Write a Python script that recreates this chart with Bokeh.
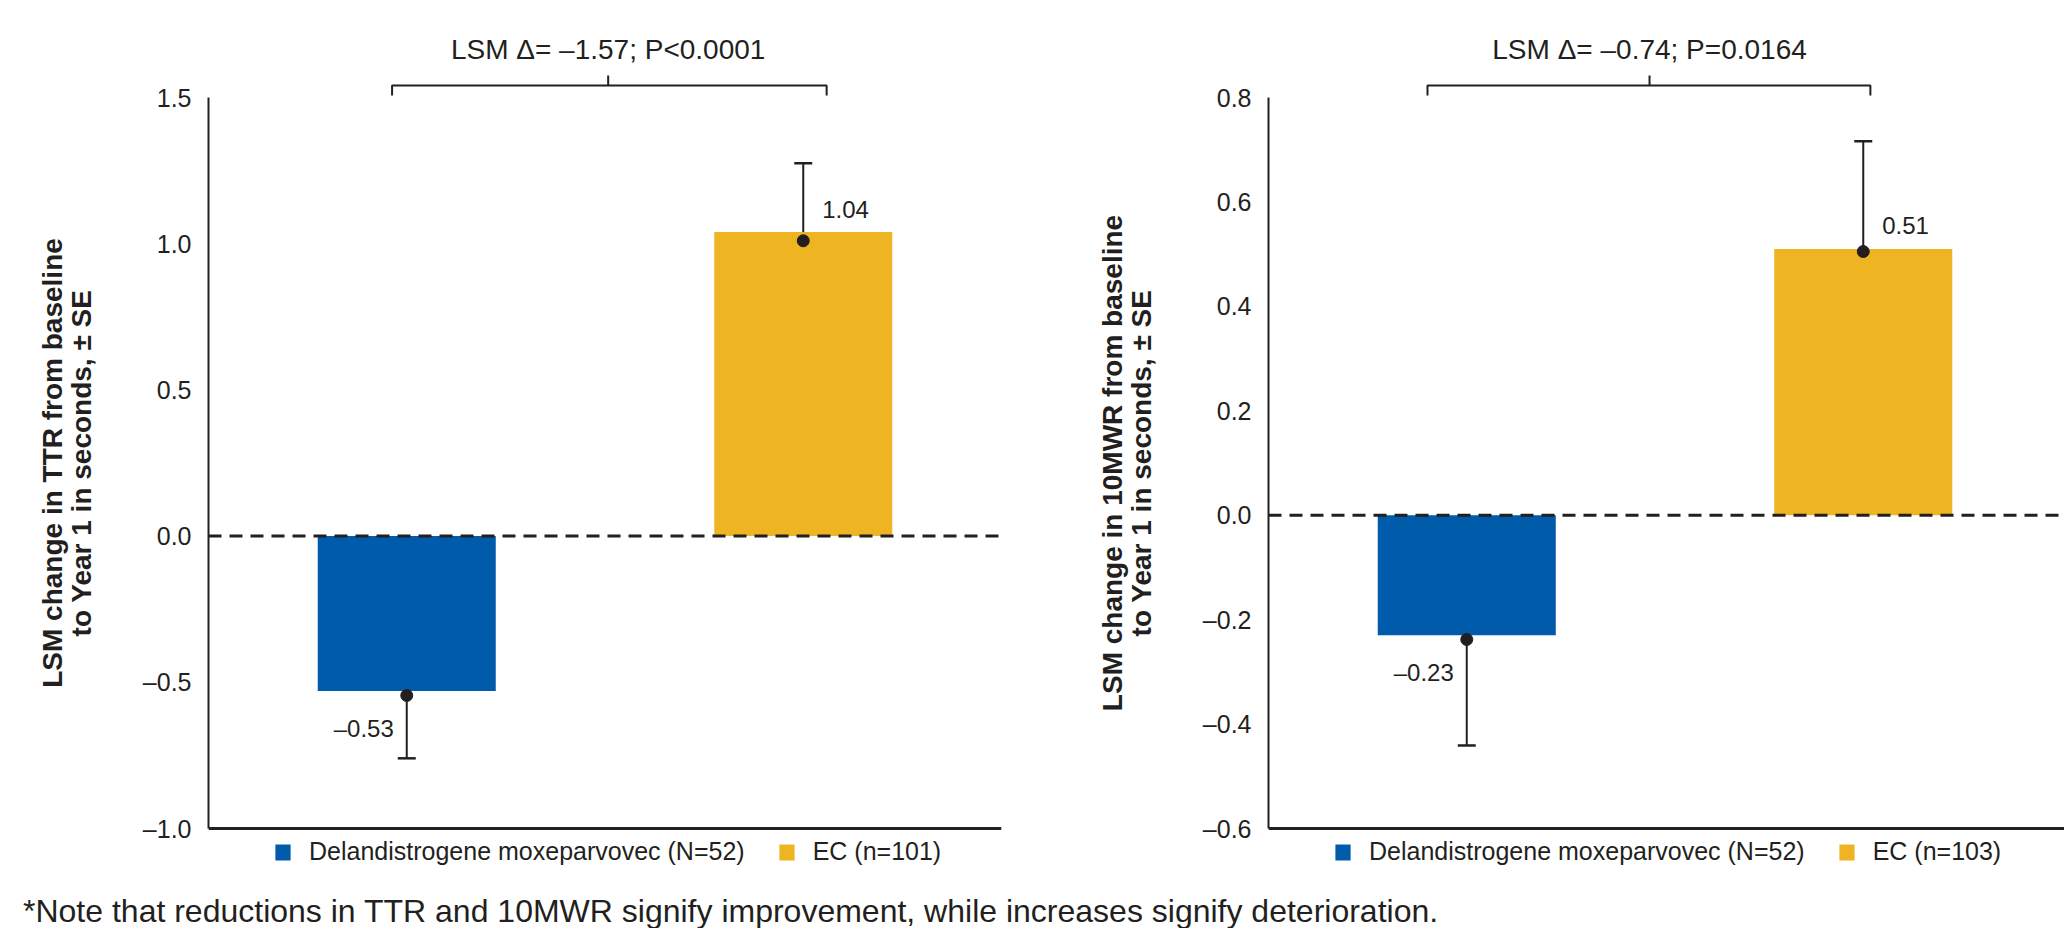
from bokeh.plotting import figure
from bokeh.models import (Range1d, FixedTicker, ColumnDataSource, Whisker, TeeHead,
                          Span, Label, Legend, LegendItem, Div)
from bokeh.layouts import row, column
from bokeh.embed import file_html
from bokeh.resources import INLINE

# ---------------- data ----------------
groups = ["Delandistrogene moxeparvovec", "EC"]
bar_colors = ["#005BAA", "#EEB422"]

ttr_n = ["N=52", "n=101"]
ttr_lsm = [-0.53, 1.04]
ttr_point = [-0.545, 1.01]
ttr_upper = [-0.30, 1.275]
ttr_lower = [-0.76, 0.805]
ttr_ticks = [-1.0, -0.5, 0.0, 0.5, 1.0, 1.5]
ttr_delta = "LSM Δ= –1.57; P<0.0001"
ttr_ytitle = "LSM change in TTR from baseline\nto Year 1 in seconds, ± SE"

mwr_n = ["N=52", "n=103"]
mwr_lsm = [-0.23, 0.51]
mwr_point = [-0.238, 0.505]
mwr_upper = [-0.02, 0.716]
mwr_lower = [-0.441, 0.302]
mwr_ticks = [-0.6, -0.4, -0.2, 0.0, 0.2, 0.4, 0.6, 0.8]
mwr_delta = "LSM Δ= –0.74; P=0.0164"
mwr_ytitle = "LSM change in 10MWR from baseline\nto Year 1 in seconds, ± SE"

footnote = "*Note that reductions in TTR and 10MWR signify improvement, while increases signify deterioration."

# ---------------- style / geometry ----------------
FONT = "Liberation Sans"
INK = "#231F20"
FRAME_TOP = 20       # page px
AXIS_TOP = 97        # page px (top tick)
AXIS_BOTTOM = 828    # page px (bottom tick / baseline)
CANVAS_H = 905
FRAME_BOTTOM = CANVAS_H
PPU_X = 396.5


def fmt(v, nd):
    return f"{v:.{nd}f}".replace("-", "–")


def build(lsm, point, upper, lower, ns, ticks, delta, ytitle,
          canvas_left, canvas_width, frame_left, frame_right, bracket):
    lo, hi = ticks[0], ticks[-1]
    ppu_y = (AXIS_BOTTOM - AXIS_TOP) / (hi - lo)
    y_end = hi + (AXIS_TOP - FRAME_TOP) / ppu_y
    y_start = lo - (FRAME_BOTTOM - AXIS_BOTTOM) / ppu_y
    x_end = (frame_right - frame_left) / PPU_X

    def ypx(py):
        return lo + (AXIS_BOTTOM - py) / ppu_y

    p = figure(width=canvas_width, height=CANVAS_H,
               min_border_left=frame_left - canvas_left,
               min_border_right=canvas_left + canvas_width - frame_right,
               min_border_top=FRAME_TOP, min_border_bottom=0,
               x_range=Range1d(0, x_end), y_range=Range1d(y_start, y_end),
               x_axis_location=None,
               output_backend="svg", toolbar_location=None, tools="")
    p.outline_line_color = None
    p.grid.visible = False
    p.background_fill_color = "white"
    p.border_fill_color = "white"

    # y axis
    ax = p.yaxis[0]
    ax.ticker = FixedTicker(ticks=ticks)
    ax.bounds = (lo, hi)
    ax.major_label_overrides = {t: fmt(t, 1) for t in ticks}
    ax.major_label_text_font = FONT
    ax.major_label_text_font_size = "25px"
    ax.major_label_text_color = INK
    ax.major_tick_line_color = None
    ax.minor_tick_line_color = None
    ax.major_tick_out = 0
    ax.major_label_standoff = 17
    ax.axis_line_width = 2
    ax.axis_line_color = INK
    ax.axis_label = ytitle
    ax.axis_label_text_font = FONT
    ax.axis_label_text_font_style = "bold"
    ax.axis_label_text_font_size = "28px"
    ax.axis_label_text_line_height = 0.93
    ax.axis_label_text_color = INK
    ax.axis_label_standoff = 43

    # baseline (x axis line) and dashed zero line
    p.add_layout(Span(location=lo, dimension="width", line_color=INK, line_width=3))
    p.add_layout(Span(location=0, dimension="width", line_color=INK,
                      line_width=3, line_dash="13 8"))

    xs = [i + 0.5 for i in range(len(groups))]
    src = ColumnDataSource(dict(x=xs, top=lsm, point=point, upper=upper, lower=lower,
                                color=bar_colors))
    bars = p.vbar(x="x", top="top", bottom=0, width=0.449, fill_color="color",
                  line_color=None, source=src)

    p.add_layout(Whisker(source=src, base="x", upper="upper", lower="lower",
                         line_color=INK, line_width=2,
                         upper_head=TeeHead(size=18, line_color=INK, line_width=2.5),
                         lower_head=TeeHead(size=18, line_color=INK, line_width=2.5)))
    p.scatter(x="x", y="point", size=12, color=INK, source=src)

    # value labels
    lx, ly, lt, la = [], [], [], []
    for x, v in zip(xs, lsm):
        if v >= 0:
            lx.append(x + 19 / PPU_X)
            ly.append(v + 23 / ppu_y)
            la.append("left")
        else:
            lx.append(x - 13 / PPU_X)
            ly.append(v - 37 / ppu_y)
            la.append("right")
        lt.append(fmt(v, 2))
    p.text(x="x", y="y", text="t", text_align="a", text_baseline="middle",
           text_font_size="24px", text_color=INK, text_font={"value": FONT},
           source=ColumnDataSource(dict(x=lx, y=ly, t=lt, a=la)))

    # bracket with comparison text
    b0, b1, bm = bracket
    y_line, y_tip, y_mid = ypx(85), ypx(95), ypx(75)
    p.line([b0, b0, b1, b1], [y_tip, y_line, y_line, y_tip], line_color=INK, line_width=2)
    p.segment(x0=[bm], y0=[y_line], x1=[bm], y1=[y_mid], line_color=INK, line_width=2)
    p.add_layout(Label(x=bm, y=ypx(49), text=delta, text_align="center",
                       text_baseline="middle", text_font=FONT,
                       text_font_size="28px", text_color=INK))

    # legend inside the frame, below the baseline
    items = [LegendItem(label=f"{g} ({n})", renderers=[bars], index=i)
             for i, (g, n) in enumerate(zip(groups, ns))]
    legend = Legend(items=items, orientation="horizontal",
                    location=(65, FRAME_BOTTOM - 852 - 14),
                    glyph_width=19, glyph_height=20, label_standoff=17, spacing=32,
                    padding=0, margin=0, border_line_color=None,
                    background_fill_alpha=0, label_text_font=FONT,
                    label_text_font_size="25px", label_text_color=INK)
    p.add_layout(legend, "center")
    return p


p1 = build(ttr_lsm, ttr_point, ttr_upper, ttr_lower, ttr_n, ttr_ticks, ttr_delta, ttr_ytitle,
           canvas_left=0, canvas_width=1040, frame_left=208, frame_right=1001,
           bracket=(0.463, 1.559, 1.008))
p2 = build(mwr_lsm, mwr_point, mwr_upper, mwr_lower, mwr_n, mwr_ticks, mwr_delta, mwr_ytitle,
           canvas_left=1040, canvas_width=1024, frame_left=1268, frame_right=2064,
           bracket=(0.401, 1.518, 0.961))

note = Div(text=footnote, width=2064, height=23,
           styles={"font-family": FONT, "font-size": "32px", "color": INK,
                   "padding-left": "18px", "line-height": "14px",
                   "white-space": "nowrap", "overflow": "visible",
                   "transform": "translateY(-6px)"})

layout = column(row(p1, p2), note)
open("out.html", "w").write(file_html(layout, INLINE))
